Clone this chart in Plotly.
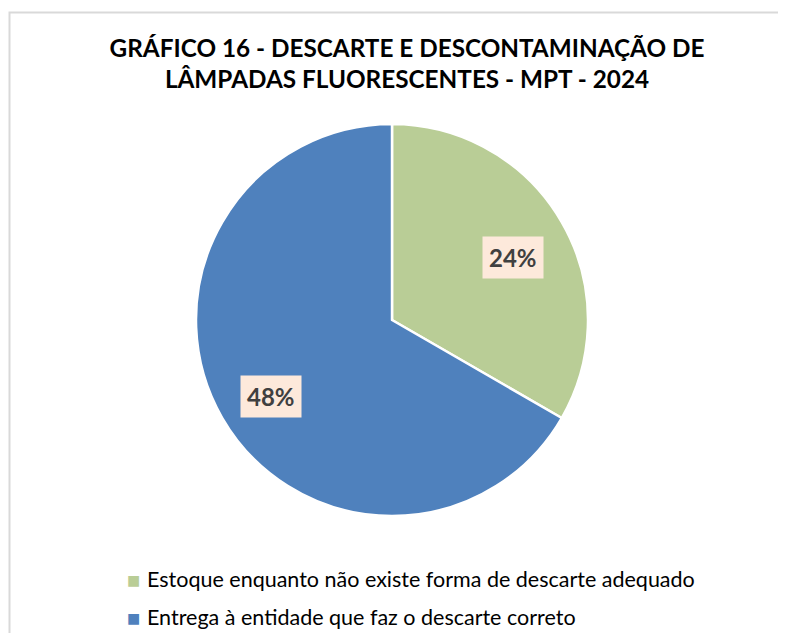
import math
import plotly.graph_objects as go

categories = ["Estoque enquanto não existe forma de descarte adequado",
              "Entrega à entidade que faz o descarte correto"]
values = [24, 48]
slice_colors = ["#B9CD96", "#4F81BD"]
title_text = "GRÁFICO 16 - DESCARTE E DESCONTAMINAÇÃO DE<br>LÂMPADAS FLUORESCENTES - MPT - 2024"

# figure size (page body keeps an 8px margin)
W, H = 770, 625
OFF = 8
def px_x(x):  # screen px -> paper
    return (x - OFF) / W
def px_y(y):
    return 1 - (y - OFF) / H

cx_s, cy_s, r_px = 392, 320, 196
FONT = "Lato, Open Sans, sans-serif"

fig = go.Figure()
fig.add_trace(go.Pie(
    labels=categories,
    values=values,
    sort=False,
    direction="clockwise",
    rotation=0,
    marker=dict(colors=slice_colors, line=dict(color="white", width=2.5)),
    textinfo="none",
    hoverinfo="label+value",
    showlegend=False,
    domain=dict(x=[px_x(cx_s - r_px), px_x(cx_s + r_px)],
                y=[px_y(cy_s + r_px), px_y(cy_s - r_px)]),
))

# data labels with a background box, placed at each slice's mid-angle
total = sum(values)
cum = 0
for v in values:
    mid = (cum + v / 2) / total * 2 * math.pi
    cum += v
    f = 0.71
    fig.add_annotation(
        x=px_x(cx_s + r_px * f * math.sin(mid)),
        y=px_y(cy_s + 7 - r_px * f * math.cos(mid)),
        xref="paper", yref="paper", xanchor="center", yanchor="middle",
        text=f"<b>{v}%</b>", showarrow=False,
        font=dict(family=FONT, size=24, color="#404040"),
        bgcolor="#FDE9DB", borderpad=6,
    )

# legend drawn as text rows
legend_rows_y = [580, 618]
for cat, col, ry in zip(categories, slice_colors, legend_rows_y):
    fig.add_annotation(x=px_x(133), y=px_y(ry), xref="paper", yref="paper",
                       text="■", showarrow=False, xanchor="center", yanchor="middle",
                       font=dict(family="DejaVu Sans", size=14, color=col))
    fig.add_annotation(x=px_x(145), y=px_y(ry - 1), xref="paper", yref="paper",
                       text=cat, showarrow=False, xanchor="left", yanchor="middle",
                       font=dict(family=FONT, size=21.5, color="#000000"))

fig.update_layout(
    width=W, height=H,
    margin=dict(l=0, r=0, t=0, b=0),
    paper_bgcolor="white",
    plot_bgcolor="white",
    title=dict(text=f"<b>{title_text}</b>", x=px_x(407), xanchor="center",
               y=px_y(56.5), yanchor="middle",
               font=dict(family=FONT, size=24.3, color="#000000")),
    showlegend=False,
    shapes=[dict(type="rect", xref="paper", yref="paper",
                 x0=px_x(9.5), x1=1.02, y0=-0.02, y1=px_y(12.5),
                 line=dict(color="#D9D9D9", width=2), fillcolor="rgba(0,0,0,0)",
                 layer="below")],
)

fig.write_html("out.html")
